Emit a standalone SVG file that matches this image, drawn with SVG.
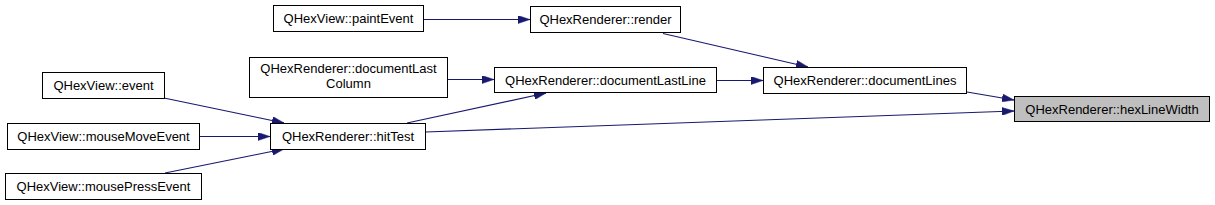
<svg xmlns="http://www.w3.org/2000/svg" width="1215" height="205" viewBox="0 0 1215 205">
<style>
.n rect{fill:#ffffff;stroke:#000000;stroke-width:1}
.n.h rect{fill:#bfbfbf}
.n text{font-family:"Liberation Sans",Arial,sans-serif;font-size:13px;fill:#000000;text-anchor:middle}
.e path{fill:none;stroke:#191970;stroke-width:1.2;marker-end:url(#ah)}
</style>
<defs>
<marker id="ah" markerUnits="userSpaceOnUse" markerWidth="12" markerHeight="8" refX="12" refY="4" orient="auto">
<path d="M0,0 L12,4 L0,8 z" fill="#191970" stroke="#191970" stroke-width="0.5"/>
</marker>
</defs>
<rect width="1215" height="205" fill="#ffffff"/>
<g id="edges" class="e">
<path d="M423.5,19.5 L530,19.5"/>
<path d="M663,33.5 L808,67"/>
<path d="M447.5,79.5 L494,79.5"/>
<path d="M716.5,80.5 L763,80.5"/>
<path d="M407,123 L546,93"/>
<path d="M967,92 L1014,100"/>
<path d="M425.5,132 L1014,111"/>
<path d="M164,98 L284,123"/>
<path d="M199.5,136.5 L270,136.5"/>
<path d="M165,173 L284,149"/>
</g>
<g id="paintEvent" class="n"><rect x="273.5" y="5.5" width="150" height="26"/><text x="348.5" y="23">QHexView::paintEvent</text></g>
<g id="render" class="n"><rect x="530.5" y="6.5" width="150" height="26"/><text x="605.5" y="24">QHexRenderer::render</text></g>
<g id="documentLastColumn" class="n"><rect x="249.5" y="57.5" width="198" height="40"/><text x="348.5" y="73">QHexRenderer::documentLast</text><text x="348.5" y="88">Column</text></g>
<g id="documentLastLine" class="n"><rect x="494.5" y="67.5" width="222" height="25"/><text x="605.5" y="84.5">QHexRenderer::documentLastLine</text></g>
<g id="documentLines" class="n"><rect x="763.5" y="67.5" width="203" height="26"/><text x="865" y="85">QHexRenderer::documentLines</text></g>
<g id="hexLineWidth" class="n h"><rect x="1014.5" y="96.5" width="195" height="25"/><text x="1112" y="113.5">QHexRenderer::hexLineWidth</text></g>
<g id="event" class="n"><rect x="42.5" y="72.5" width="122" height="26"/><text x="103.5" y="90">QHexView::event</text></g>
<g id="mouseMoveEvent" class="n"><rect x="7.5" y="123.5" width="192" height="26"/><text x="103.5" y="141">QHexView::mouseMoveEvent</text></g>
<g id="mousePressEvent" class="n"><rect x="5.5" y="173.5" width="196" height="26"/><text x="103.5" y="191">QHexView::mousePressEvent</text></g>
<g id="hitTest" class="n"><rect x="270.5" y="123.5" width="155" height="26"/><text x="348" y="141">QHexRenderer::hitTest</text></g>
</svg>
